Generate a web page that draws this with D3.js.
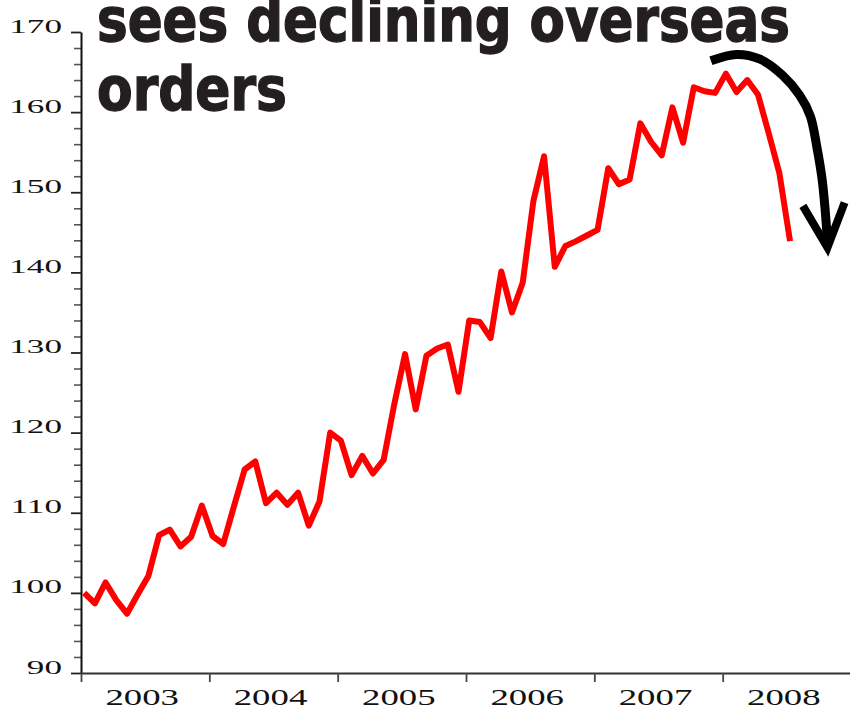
<!DOCTYPE html>
<html>
<head>
<meta charset="utf-8">
<script src="https://cdn.jsdelivr.net/npm/d3@7"></script>
<style>
  html, body { margin: 0; padding: 0; background: #fff; }
  svg { display: block; }
</style>
</head>
<body>
<svg id="chart" width="850" height="709"></svg>
<script>
// ---- Data (monthly index, Jan 2003 .. Jul 2008) ----
const years = ["2003", "2004", "2005", "2006", "2007", "2008"];
const values = [
  100.0, 98.7, 101.3, 99.1, 97.4, 99.8, 102.1, 107.2, 107.9, 105.8, 107.0, 110.9,
  107.1, 106.1, 110.8, 115.4, 116.4, 111.2, 112.5, 111.0, 112.5, 108.4, 111.4, 120.0,
  119.0, 114.7, 117.1, 114.9, 116.6, 123.6, 129.8, 122.9, 129.6, 130.5, 131.0, 125.1,
  134.0, 133.8, 131.8, 140.1, 135.0, 138.7, 148.9, 154.5, 140.7, 143.3, 143.9, 144.6,
  145.3, 153.0, 151.0, 151.6, 158.6, 156.3, 154.6, 160.6, 156.2, 163.1, 162.6, 162.4,
  164.8, 162.5, 164.0, 162.2, 157.4, 152.4, 143.9
];
const majorTicks = [90, 100, 110, 120, 130, 140, 150, 160, 170];
const minorTicks = d3.range(90, 171, 2).filter(v => v % 10 !== 0);
const titleLines = ["sees declining overseas", "orders"];
// annotation arrow in data space [month index, value]
const arrowCurve = [[58.9,166.4],[61.3,167.2],[63.5,166.6],[65.6,164.6],[67.2,162.1],[68.2,159.5],[68.8,155.7],[69.3,151.6],[69.7,145.8],[69.8,143.4]];
const arrowHead = [[67.5,148.3],[69.8,143.1],[71.4,148.7]];

// ---- Layout ----
const svg = d3.select("#chart");
const x = d3.scaleLinear().domain([0, 72]).range([81, 851]);
const y = d3.scaleLinear().domain([90, 170]).range([673, 32]);
const monthX = i => x(i + 0.3);

// ---- Title ----
const title = svg.append("g")
  .attr("font-family", "'Liberation Sans Narrow', 'DejaVu Sans Condensed', 'Liberation Sans', sans-serif")
  .attr("font-weight", "bold")
  .attr("font-size", 60)
  .attr("fill", "#231f20")
  .attr("stroke", "#231f20")
  .attr("stroke-width", 1.3);
title.append("text").attr("x", 97).attr("y", 41)
  .attr("textLength", 693).attr("lengthAdjust", "spacingAndGlyphs")
  .text(titleLines[0]);
title.append("text").attr("x", 97).attr("y", 110)
  .attr("textLength", 190).attr("lengthAdjust", "spacingAndGlyphs")
  .text(titleLines[1]);

// ---- Y axis ----
const ySx = 1.85;
const yMinor = svg.append("g").attr("transform", "translate(81,0)")
  .call(d3.axisLeft(y).tickValues(minorTicks).tickSize(7).tickSizeOuter(0).tickFormat(""));
yMinor.select(".domain").remove();
yMinor.selectAll("line").attr("stroke", "#555").attr("stroke-width", 1.6);

const yMajor = svg.append("g").attr("transform", "translate(81,0)")
  .call(d3.axisLeft(y).tickValues(majorTicks).tickSize(10).tickSizeOuter(0).tickFormat(d3.format("d")));
yMajor.select(".domain").attr("stroke", "#111").attr("stroke-width", 2);
yMajor.selectAll("line").attr("stroke", "#222").attr("stroke-width", 1.8);
yMajor.selectAll("text")
  .attr("font-family", "'Liberation Serif', 'DejaVu Serif', serif")
  .attr("font-size", 19)
  .attr("fill", "#111")
  .attr("x", -19 / ySx)
  .attr("dy", "0")
  .attr("y", 0)
  .attr("transform", `scale(${ySx},1)`);

// ---- X axis ----
const xAxis = svg.append("g").attr("transform", "translate(0,673)")
  .call(d3.axisBottom(x).tickValues([0, 12, 24, 36, 48, 60]).tickSize(9).tickSizeOuter(0).tickFormat(""));
xAxis.select(".domain").attr("stroke", "#333").attr("stroke-width", 2);
xAxis.selectAll("line").attr("stroke", "#444").attr("stroke-width", 1.8);

const xSx = 1.6;
svg.append("g").selectAll("text").data(years).join("text")
  .attr("transform", (d, i) => `translate(${x(i * 12 + 6) - 3},705) scale(${xSx},1)`)
  .attr("text-anchor", "middle")
  .attr("font-family", "'Liberation Serif', 'DejaVu Serif', serif")
  .attr("font-size", 23)
  .attr("fill", "#111")
  .text(d => d);

// ---- Line ----
svg.append("path")
  .datum(values)
  .attr("fill", "none")
  .attr("stroke", "#ff0000")
  .attr("stroke-width", 6)
  .attr("stroke-linejoin", "round")
  .attr("d", d3.line().x((d, i) => monthX(i)).y(d => y(d)));

// ---- Arrow annotation ----
svg.append("path")
  .datum(arrowCurve)
  .attr("fill", "none")
  .attr("stroke", "#000")
  .attr("stroke-width", 9)
  .attr("d", d3.line().x(d => x(d[0])).y(d => y(d[1])).curve(d3.curveCatmullRom));
svg.append("path")
  .datum(arrowHead)
  .attr("fill", "none")
  .attr("stroke", "#000")
  .attr("stroke-width", 8)
  .attr("stroke-linejoin", "miter")
  .attr("stroke-miterlimit", 10)
  .attr("d", d3.line().x(d => x(d[0])).y(d => y(d[1])));
</script>
</body>
</html>
